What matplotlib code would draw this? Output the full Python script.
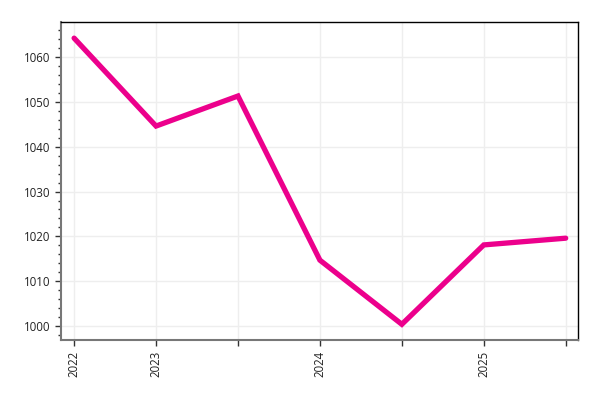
import matplotlib
matplotlib.use('Agg')
import matplotlib.pyplot as plt
from matplotlib.ticker import MultipleLocator

# Data
x_labels = ['2022', '2023', '', '2024', '', '2025', '']
values = [1064.2, 1044.6, 1051.3, 1014.7, 1000.4, 1018.1, 1019.6]

plt.rcParams['font.family'] = ['Open Sans', 'DejaVu Sans']

fig = plt.figure(figsize=(6, 4), dpi=100)
ax = fig.add_axes([61 / 600, 60 / 400, 517 / 600, 318 / 400])

x = list(range(len(values)))
ax.plot(x, values, color='#ec008c', linewidth=3.8, solid_capstyle='round',
        solid_joinstyle='miter', zorder=3)

ax.set_xlim(-0.16, 6.15)
ax.set_ylim(996.9, 1067.8)

ax.set_xticks(x)
ax.set_xticklabels(x_labels, rotation=90, fontsize=8.3, color='#222222')
ax.yaxis.set_major_locator(MultipleLocator(10))
ax.yaxis.set_minor_locator(MultipleLocator(2))
ax.tick_params(axis='y', labelsize=8.3, labelcolor='#222222', length=4,
               width=1, color='#333333')
ax.tick_params(axis='y', which='minor', length=2.5, width=1, color='#333333')
ax.tick_params(axis='x', length=4, width=1, color='#333333')

# Light grid
ax.grid(True, color='#eeeeee', linewidth=1, zorder=0)

# Spines: gray bottom/left, black top/right
for side in ('left', 'bottom'):
    ax.spines[side].set_color('#777777')
    ax.spines[side].set_linewidth(1.5)
for side in ('top', 'right'):
    ax.spines[side].set_color('black')
    ax.spines[side].set_linewidth(1)

fig.savefig('out.png', dpi=100)
